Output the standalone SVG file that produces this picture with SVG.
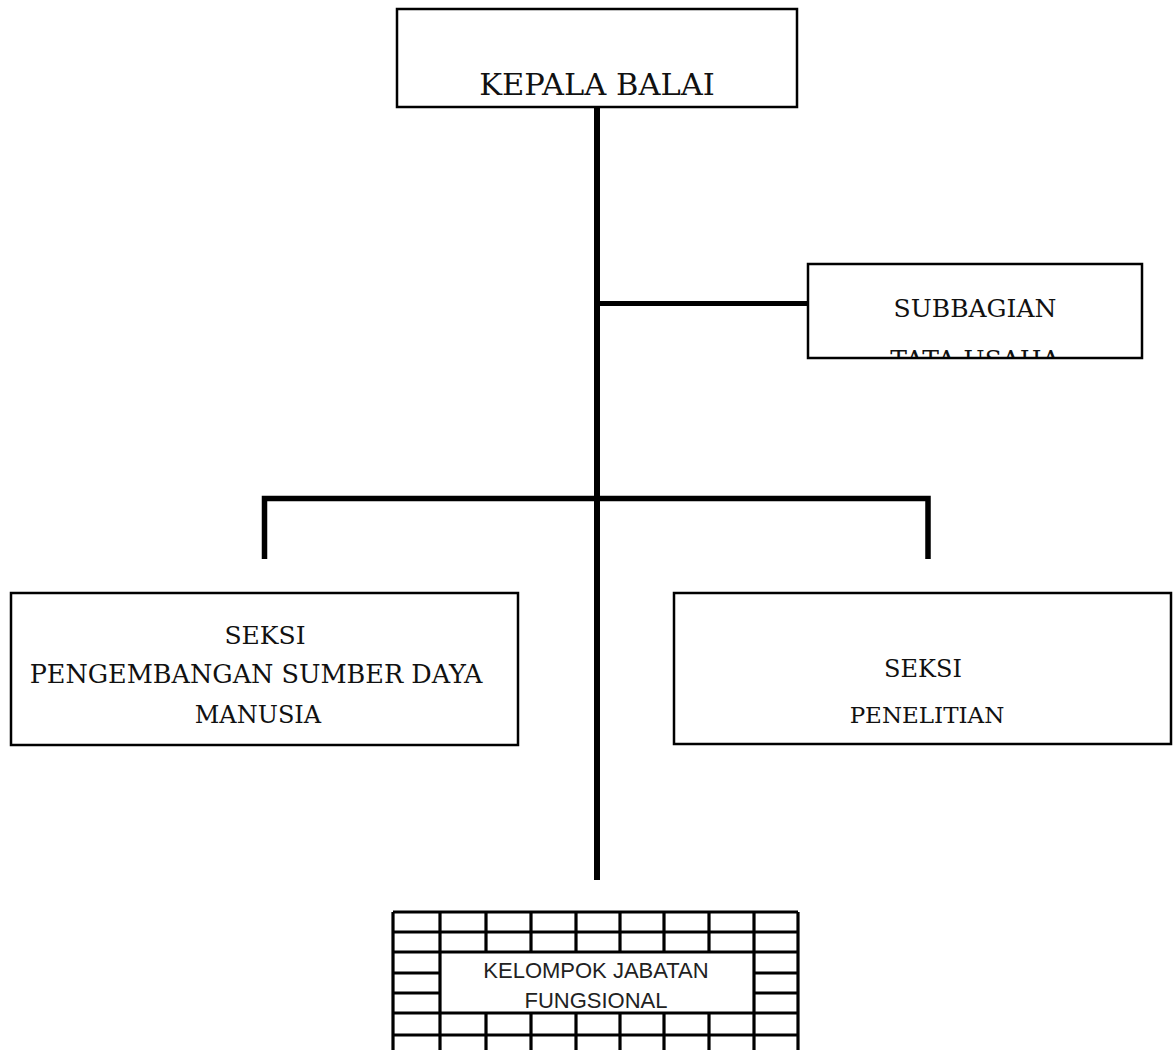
<svg xmlns="http://www.w3.org/2000/svg" width="1173" height="1050" viewBox="0 0 1173 1050">
  <style>
    .box { fill: #ffffff; stroke: #000000; stroke-width: 2.5; }
    .lbl { font-family: "DejaVu Serif", "Liberation Serif", serif; fill: #111111; text-anchor: middle; }
    .conn { stroke: #000000; fill: none; stroke-linecap: butt; }
    .grid { stroke: #000000; stroke-width: 3.2; fill: none; }
    .sans { font-family: "Liberation Sans", "Open Sans", sans-serif; fill: #222222; text-anchor: middle; font-size: 22px; }
  </style>
  <defs>
    <clipPath id="clipSub">
      <rect x="808" y="264" width="334" height="93"/>
    </clipPath>
  </defs>
  <rect width="1173" height="1050" fill="#ffffff"/>

  <g id="connectors">
    <line class="conn" x1="597" y1="106" x2="597" y2="880" stroke-width="6"/>
    <line class="conn" x1="597" y1="303.5" x2="809" y2="303.5" stroke-width="5"/>
    <path class="conn" d="M264.5 559 V498.5 H928 V559" stroke-width="5.5"/>
  </g>

  <g id="kepala-balai">
    <rect class="box" x="397" y="9" width="400" height="98"/>
    <text class="lbl" x="597" y="95" font-size="30.5">KEPALA BALAI</text>
  </g>

  <g id="subbagian">
    <rect class="box" x="808" y="264" width="334" height="94"/>
    <g clip-path="url(#clipSub)">
      <text class="lbl" x="975" y="317" font-size="25">SUBBAGIAN</text>
      <text class="lbl" x="975" y="368" font-size="25">TATA USAHA</text>
    </g>
  </g>

  <g id="seksi-psdm">
    <rect class="box" x="11" y="593" width="507" height="152"/>
    <text class="lbl" x="265" y="644" font-size="25">SEKSI</text>
    <text class="lbl" x="256" y="683" font-size="25.5">PENGEMBANGAN SUMBER DAYA</text>
    <text class="lbl" x="258" y="723" font-size="24">MANUSIA</text>
  </g>

  <g id="seksi-penelitian">
    <rect class="box" x="674" y="593" width="497" height="151"/>
    <text class="lbl" x="923" y="677" font-size="24">SEKSI</text>
    <text class="lbl" x="927" y="723" font-size="23">PENELITIAN</text>
  </g>

  <g id="kelompok-jabatan">
    <rect x="393" y="912" width="405" height="140" fill="#ffffff"/>
    <g class="grid">
      <line x1="393" y1="912" x2="798" y2="912"/>
      <line x1="393" y1="932" x2="798" y2="932"/>
      <line x1="393" y1="952" x2="798" y2="952"/>
      <line x1="393" y1="973" x2="440" y2="973"/>
      <line x1="754" y1="973" x2="798" y2="973"/>
      <line x1="393" y1="993" x2="440" y2="993"/>
      <line x1="754" y1="993" x2="798" y2="993"/>
      <line x1="393" y1="1013" x2="798" y2="1013"/>
      <line x1="393" y1="1035" x2="798" y2="1035"/>
      <line x1="393" y1="912" x2="393" y2="1050"/>
      <line x1="440" y1="912" x2="440" y2="1050"/>
      <line x1="798" y1="912" x2="798" y2="1050"/>
      <line x1="754" y1="912" x2="754" y2="1050"/>
      <line x1="486" y1="912" x2="486" y2="952"/>
      <line x1="531" y1="912" x2="531" y2="952"/>
      <line x1="576" y1="912" x2="576" y2="952"/>
      <line x1="620" y1="912" x2="620" y2="952"/>
      <line x1="664" y1="912" x2="664" y2="952"/>
      <line x1="709" y1="912" x2="709" y2="952"/>
      <line x1="486" y1="1013" x2="486" y2="1050"/>
      <line x1="531" y1="1013" x2="531" y2="1050"/>
      <line x1="576" y1="1013" x2="576" y2="1050"/>
      <line x1="620" y1="1013" x2="620" y2="1050"/>
      <line x1="664" y1="1013" x2="664" y2="1050"/>
      <line x1="709" y1="1013" x2="709" y2="1050"/>
    </g>
    <text class="sans" x="596" y="978">KELOMPOK JABATAN</text>
    <text class="sans" x="596" y="1008">FUNGSIONAL</text>
  </g>
</svg>
